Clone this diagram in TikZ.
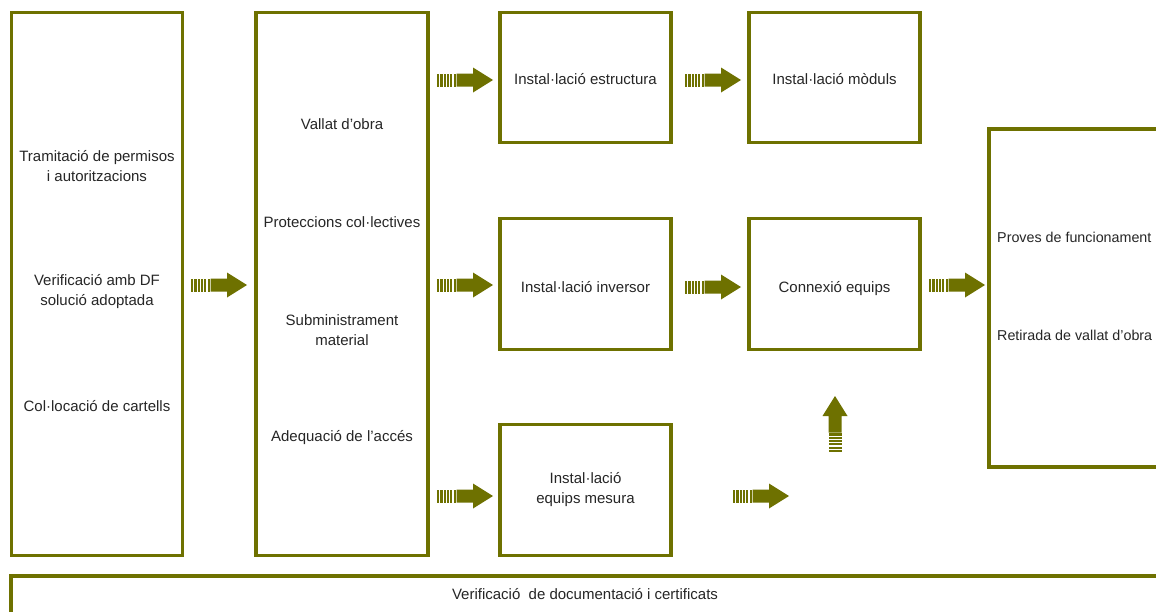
\documentclass[tikz,border=0pt]{standalone}
\usepackage{fontspec}
\setmainfont{Liberation Sans}
\definecolor{olv}{RGB}{110,113,0}
\begin{document}
\begin{tikzpicture}[x=1pt,y=-1pt,
  box/.style={draw=olv,line width=3.6pt,fill=white,inner sep=0pt,outer sep=0pt},
  txt/.style={align=center,inner sep=0pt,font=\fontsize{15}{20}\selectfont,text=black!85},
  rtxt/.style={txt,anchor=west,font=\fontsize{14.3}{20}\selectfont},
  sarrow/.pic={
    \foreach \i in {0,...,5}{\fill[olv] (\i*3.3,-6.5) rectangle ++(2.2,13);}
    \fill[olv] (19.5,-6.5) -- (36,-6.5) -- (36,-12.5) -- (56,0) -- (36,12.5) -- (36,6.5) -- (19.5,6.5) -- cycle;
  }]
\clip (0,0) rectangle (1156,611);
\fill[white] (0,0) rectangle (1156,611);
% boxes
\node[box,minimum width=171pt,minimum height=543pt] (A) at (97,284) {};
\node[box,minimum width=172pt,minimum height=543pt] (B) at (342,284) {};
\node[box,minimum width=171pt,minimum height=130pt] (C) at (585.5,77.5) {};
\node[box,minimum width=171pt,minimum height=130pt] (D) at (834.5,77.5) {};
\node[box,minimum width=171pt,minimum height=131pt] (E) at (585.5,284) {};
\node[box,minimum width=171pt,minimum height=131pt] (F) at (834.5,284) {};
\node[box,minimum width=171pt,minimum height=131pt] (G) at (585.5,490) {};
\node[box,minimum width=181pt,minimum height=338pt] (H) at (1079.5,298) {};
\node[box,minimum width=1160pt,minimum height=50pt] (V) at (591,601) {};
% texts
\node[txt] (a1) at (97,166) {Tramitació de permisos\\i autoritzacions};
\node[txt] (a2) at (97,292) {Verificació amb DF\\solució adoptada};
\node[txt] (a3) at (97,406) {Col·locació de cartells};
\node[txt] (b1) at (342,124) {Vallat d’obra};
\node[txt] (b2) at (342,222) {Proteccions col·lectives};
\node[txt] (b3) at (342,330) {Subministrament\\material};
\node[txt] (b4) at (342,438) {Adequació de l’accés};
\node[txt] (c1) at (585.5,79) {Instal·lació estructura};
\node[txt] (d1) at (834.5,79) {Instal·lació mòduls};
\node[txt] (e1) at (585.5,287) {Instal·lació inversor};
\node[txt] (f1) at (834.5,289) {Connexió equips};
\node[txt] (g1) at (585.5,490) {Instal·lació\\equips mesura};
\node[rtxt] (h1) at (997,237) {Proves de funcionament};
\node[rtxt] (h2) at (997,335) {Retirada de vallat d’obra};
\node[txt] (v1) at (585,594) {Verificació\ \ de documentació i certificats};
% arrows
\pic (ar1) at (191,285) {sarrow};
\pic (ar2) at (437,80) {sarrow};
\pic (ar3) at (685,80) {sarrow};
\pic (ar4) at (437,285) {sarrow};
\pic (ar5) at (685,287) {sarrow};
\pic (ar6) at (929,285) {sarrow};
\pic (ar7) at (437,496) {sarrow};
\pic (ar8) at (733,496) {sarrow};
\pic[rotate=90] (ar9) at (835,452) {sarrow};
\end{tikzpicture}
\end{document}
